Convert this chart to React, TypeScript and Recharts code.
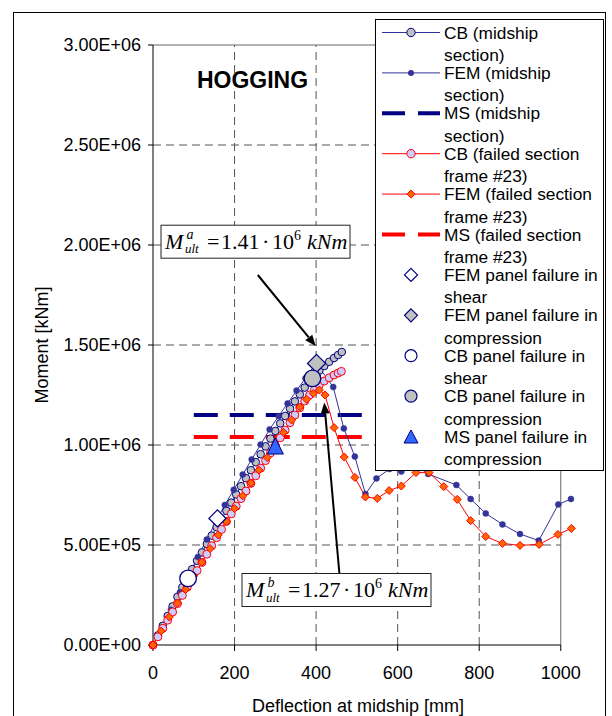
import React from 'react'
import { ComposedChart, Line, Scatter, XAxis, YAxis, ReferenceLine, ReferenceDot } from 'recharts'

const FONT = "'Liberation Sans', Arial, sans-serif"
const SERIF = "'Liberation Serif', 'Times New Roman', serif"
const BLUE = '#333399'
const NAVY = '#000080'
const RED = '#ff0000'

// deflection at midship [mm] and moment [kNm]
const cbMidX = [0, 12, 24, 36, 48, 60, 72, 84, 96, 108, 120, 132, 144, 156, 168, 180, 192, 204, 216, 228, 240, 252, 264, 276, 288, 300, 312, 324, 336, 348, 360, 372, 384, 396, 408, 420, 432, 444, 454, 463]
const cbMidM = [0, 48000, 96000, 145000, 193000, 241000, 289000, 337000, 379000, 421000, 463000, 505000, 547000, 589000, 630000, 671000, 712000, 753000, 794000, 834000, 874000, 914000, 954000, 993000, 1032000, 1070000, 1108000, 1145000, 1182000, 1218000, 1253000, 1287000, 1318000, 1346000, 1372000, 1395000, 1416000, 1435000, 1450000, 1465000]

const femMidX = [0, 22, 44, 66, 88, 110, 132, 154, 176, 198, 220, 242, 264, 286, 308, 330, 352, 374, 400, 442, 468, 495, 521, 548, 580, 609, 643, 675, 744, 779, 816, 857, 900, 946, 994, 1025]
const femMidM = [0, 88000, 176000, 264000, 352000, 440000, 528000, 616000, 700000, 776000, 852000, 928000, 1002000, 1078000, 1144000, 1208000, 1272000, 1334000, 1410000, 1290000, 1083000, 942000, 755000, 833000, 880000, 867000, 900000, 855000, 800000, 730000, 658000, 603000, 555000, 522000, 703000, 730000]

const cbFailX = [0, 12, 24, 36, 48, 60, 72, 84, 96, 108, 120, 132, 144, 156, 168, 180, 192, 204, 216, 228, 240, 252, 264, 276, 288, 300, 312, 324, 336, 348, 360, 372, 384, 396, 408, 420, 432, 444, 454, 462]
const cbFailM = [0, 41000, 83000, 124000, 165000, 207000, 248000, 289000, 330000, 372000, 413000, 454000, 496000, 537000, 578000, 618000, 656000, 694000, 732000, 770000, 808000, 846000, 884000, 922000, 960000, 998000, 1036000, 1074000, 1112000, 1150000, 1186000, 1220000, 1250000, 1277000, 1300000, 1320000, 1336000, 1350000, 1360000, 1368000]

const femFailX = [0, 20, 40, 60, 80, 100, 120, 140, 160, 180, 200, 220, 240, 260, 280, 300, 320, 340, 360, 377, 393, 408, 422, 444, 469, 495, 521, 550, 579, 609, 645, 677, 713, 746, 779, 816, 857, 900, 947, 993, 1026]
const femFailM = [0, 70000, 140000, 210000, 278000, 346000, 414000, 482000, 550000, 617000, 682000, 746000, 810000, 874000, 937000, 1000000, 1063000, 1125000, 1190000, 1228000, 1258000, 1275000, 1250000, 1087000, 940000, 838000, 740000, 733000, 772000, 795000, 862000, 862000, 792000, 728000, 622000, 542000, 508000, 498000, 503000, 553000, 583000]

const msX = [100, 514]
const msMidM = [1150000, 1150000]
const msFailM = [1040000, 1040000]

// panel failure points
const femShear = [{ x: 158, y: 633000 }]
const femComp = [{ x: 401, y: 1408000 }]
const cbShear = [{ x: 86, y: 333000 }]
const cbComp = [{ x: 391, y: 1333000 }]
const msComp = [{ x: 300, y: 995000 }]

const xTicks = [0, 200, 400, 600, 800, 1000]
const yTicks = [0, 500000, 1000000, 1500000, 2000000, 2500000, 3000000]
const yTickLabels = ['0.00E+00', '5.00E+05', '1.00E+06', '1.50E+06', '2.00E+06', '2.50E+06', '3.00E+06']
const xGrid = [200, 400, 600, 800]
const yGrid = [500000, 1000000, 1500000, 2000000, 2500000]

const legendNames = [
  ['CB (midship', 'section)'],
  ['FEM (midship', 'section)'],
  ['MS (midship', 'section)'],
  ['CB (failed section', 'frame #23)'],
  ['FEM (failed section', 'frame #23)'],
  ['MS (failed section', 'frame #23)'],
  ['FEM panel failure in', 'shear'],
  ['FEM panel failure in', 'compression'],
  ['CB panel failure in', 'shear'],
  ['CB panel failure in', 'compression'],
  ['MS panel failure in', 'compression'],
]

const toPts = (xs: number[], ys: number[]) => xs.map((x, i) => ({ x, y: ys[i] }))

const diamond = (cx: number, cy: number, h: number) =>
  `M${cx},${cy - h}L${cx + h},${cy}L${cx},${cy + h}L${cx - h},${cy}Z`
const triangle = (cx: number, cy: number, w: number, h: number) =>
  `M${cx},${cy - h / 2}L${cx + w / 2},${cy + h / 2}L${cx - w / 2},${cy + h / 2}Z`

const arrow = (p: any) => {
  const { x1, y1, x2, y2 } = p
  const a = Math.atan2(y2 - y1, x2 - x1)
  const len = 11
  const w = 4.5
  const bx = x2 - len * Math.cos(a)
  const by = y2 - len * Math.sin(a)
  const nx = -Math.sin(a) * w
  const ny = Math.cos(a) * w
  return (
    <g>
      <line x1={x1} y1={y1} x2={bx} y2={by} stroke="#000" strokeWidth={2} />
      <path d={`M${x2},${y2}L${bx + nx},${by + ny}L${bx - nx},${by - ny}Z`} fill="#000" />
    </g>
  )
}

const mathBox = (sup: string, value: string) => (p: any) => {
  const L = p.cx - 94.5
  const T = p.cy - 16.5
  const B = T + 23.5
  return (
    <g fontFamily={SERIF} fill="#000">
      <rect x={L} y={T} width={189} height={33} fill="#fff" stroke="#222" strokeWidth={1} />
      <text x={L + 4} y={B} fontSize={22} fontStyle="italic">M</text>
      <text x={L + 25.5} y={B - 10} fontSize={14} fontStyle="italic">{sup}</text>
      <text x={L + 24} y={B + 4.5} fontSize={13} fontStyle="italic">ult</text>
      <text x={L + 46} y={B} fontSize={22}>=</text>
      <text x={L + 60} y={B} fontSize={22}>{value}</text>
      <text x={L + 101} y={B} fontSize={22}>·</text>
      <text x={L + 111} y={B} fontSize={22}>10</text>
      <text x={L + 133} y={B - 9} fontSize={14}>6</text>
      <text x={L + 146} y={B} fontSize={22} fontStyle="italic">kNm</text>
    </g>
  )
}

const hogging = (p: any) => (
  <text x={p.cx} y={p.cy + 8} textAnchor="middle" fontFamily={FONT} fontWeight="bold" fontSize={23} fill="#000">
    HOGGING
  </text>
)

const orangeDiamond = (p: any) => (
  <path key={`fd${p.index}`} d={diamond(p.cx, p.cy, 4)} fill="#ff6600" stroke={RED} strokeWidth={1} />
)

function legendIcon(i: number, y: number) {
  const line = (c: string) => <line x1={7} y1={y} x2={65} y2={y} stroke={c} strokeWidth={1} />
  const dash = (c: string) => <line x1={7} y1={y} x2={65} y2={y} stroke={c} strokeWidth={4} strokeDasharray="23 13" />
  switch (i) {
    case 0: return <g>{line(BLUE)}<circle cx={36} cy={y} r={4.2} fill="#c0c0c0" stroke={NAVY} /></g>
    case 1: return <g>{line(BLUE)}<circle cx={36} cy={y} r={3} fill={BLUE} /></g>
    case 2: return dash(NAVY)
    case 3: return <g>{line(RED)}<circle cx={36} cy={y} r={4.2} fill="#ccccff" stroke={RED} /></g>
    case 4: return <g>{line(RED)}<path d={diamond(36, y, 4)} fill="#ff6600" stroke={RED} /></g>
    case 5: return dash(RED)
    case 6: return <path d={diamond(36, y, 6.5)} fill="#fff" stroke={NAVY} strokeWidth={1.2} />
    case 7: return <path d={diamond(36, y, 6.5)} fill="#c0c0c0" stroke={NAVY} strokeWidth={1.2} />
    case 8: return <circle cx={36} cy={y} r={6} fill="#fff" stroke={NAVY} strokeWidth={1.2} />
    case 9: return <circle cx={36} cy={y} r={6} fill="#c0c0c0" stroke={NAVY} strokeWidth={1.2} />
    default: return <path d={triangle(36, y, 14, 13)} fill="#3366ff" stroke={NAVY} strokeWidth={1} />
  }
}

function ChartLegend() {
  return (
    <svg width={229} height={452} style={{ position: 'absolute', left: 375, top: 19 }}>
      <rect x={0.5} y={0.5} width={228} height={451} fill="#fff" stroke="#000" strokeWidth={1} />
      {legendNames.map((n, i) => {
        const y = 13.5 + 40.4 * i
        return (
          <g key={i}>
            {legendIcon(i, y)}
            <text x={69} y={y + 6} fontFamily={FONT} fontSize={17.3} fill="#000">{n[0]}</text>
            <text x={69} y={y + 28.5} fontFamily={FONT} fontSize={17.3} fill="#000">{n[1]}</text>
          </g>
        )
      })}
    </svg>
  )
}

export default function App() {
  return (
    <div style={{ position: 'absolute', left: 0, top: 0, width: 612, height: 716, overflow: 'hidden', background: '#fff' }}>
      <ComposedChart width={612} height={716} margin={{ top: 45, right: 39, bottom: 0, left: 0 }}>
        <XAxis
          dataKey="x"
          type="number"
          domain={[0, 1030]}
          ticks={xTicks}
          height={71}
          axisLine={false}
          tickLine={{ stroke: '#000' }}
          tickSize={6}
          tickMargin={15}
          tick={{ fontSize: 18, fill: '#000', fontFamily: FONT }}
          label={{
            content: () => (
              <text x={358} y={712} textAnchor="middle" fontFamily={FONT} fontSize={18} fill="#000">
                Deflection at midship [mm]
              </text>
            ),
          }}
        />
        <YAxis
          type="number"
          domain={[0, 3000000]}
          ticks={yTicks}
          interval={0}
          width={153}
          axisLine={{ stroke: '#000' }}
          tickLine={{ stroke: '#000' }}
          tickSize={5}
          tickMargin={7}
          tick={{ fontSize: 18, fill: '#000', fontFamily: FONT }}
          tickFormatter={(v: number) => yTickLabels[yTicks.indexOf(v)]}
          label={{
            content: () => (
              <text x={42} y={345} transform="rotate(-90, 42, 345)" textAnchor="middle" dominantBaseline="central" fontFamily={FONT} fontSize={18} fill="#000">
                Moment [kNm]
              </text>
            ),
          }}
        />

        {xGrid.map((g) => (
          <ReferenceLine key={`vx${g}`} segment={[{ x: g, y: 0 }, { x: g, y: 3000000 }]} stroke="#555" strokeDasharray="8 5" />
        ))}
        {yGrid.map((g) => (
          <ReferenceLine key={`hy${g}`} segment={[{ x: 0, y: g }, { x: 1000, y: g }]} stroke="#555" strokeDasharray="8 5" />
        ))}
        <ReferenceLine segment={[{ x: 0, y: 3000000 }, { x: 1000, y: 3000000 }]} stroke="#666" />
        <ReferenceLine segment={[{ x: 1000, y: 0 }, { x: 1000, y: 3000000 }]} stroke="#666" />
        <ReferenceLine segment={[{ x: 0, y: 0 }, { x: 1000, y: 0 }]} stroke="#000" />

        <Line data={toPts(msX, msMidM)} dataKey="y" stroke={NAVY} strokeWidth={4} strokeDasharray="24 12" dot={false} activeDot={false} isAnimationActive={false} />
        <Line data={toPts(msX, msFailM)} dataKey="y" stroke={RED} strokeWidth={4} strokeDasharray="24 12" dot={false} activeDot={false} isAnimationActive={false} />
        <Line data={toPts(cbMidX, cbMidM)} dataKey="y" stroke={BLUE} strokeWidth={1} dot={{ r: 3.8, fill: '#c0c0c0', stroke: NAVY, strokeWidth: 1 }} activeDot={false} isAnimationActive={false} />
        <Line data={toPts(femMidX, femMidM)} dataKey="y" stroke={BLUE} strokeWidth={1} dot={{ r: 3, fill: BLUE, stroke: BLUE, strokeWidth: 0.5 }} activeDot={false} isAnimationActive={false} />
        <Line data={toPts(cbFailX, cbFailM)} dataKey="y" stroke={RED} strokeWidth={1} dot={{ r: 4, fill: '#ccccff', stroke: RED, strokeWidth: 1 }} activeDot={false} isAnimationActive={false} />
        <Line data={toPts(femFailX, femFailM)} dataKey="y" stroke={RED} strokeWidth={1} dot={orangeDiamond} activeDot={false} isAnimationActive={false} />

        <Scatter data={femShear} dataKey="y" isAnimationActive={false} shape={(p: any) => <path d={diamond(p.cx, p.cy, 8.5)} fill="#fff" stroke={NAVY} strokeWidth={1.3} />} />
        <Scatter data={femComp} dataKey="y" isAnimationActive={false} shape={(p: any) => <path d={diamond(p.cx, p.cy, 9)} fill="#c0c0c0" stroke={NAVY} strokeWidth={1.3} />} />
        <Scatter data={cbShear} dataKey="y" isAnimationActive={false} shape={(p: any) => <circle cx={p.cx} cy={p.cy} r={8.3} fill="#fff" stroke={NAVY} strokeWidth={1.3} />} />
        <Scatter data={cbComp} dataKey="y" isAnimationActive={false} shape={(p: any) => <circle cx={p.cx} cy={p.cy} r={8.3} fill="#c0c0c0" stroke={NAVY} strokeWidth={1.3} />} />
        <Scatter data={msComp} dataKey="y" isAnimationActive={false} shape={(p: any) => <path d={triangle(p.cx, p.cy, 16, 16)} fill="#3366ff" stroke={NAVY} strokeWidth={1} />} />

        <ReferenceLine segment={[{ x: 257, y: 1850000 }, { x: 399, y: 1495000 }]} shape={arrow} />
        <ReferenceLine segment={[{ x: 457, y: 360000 }, { x: 420, y: 1212000 }]} shape={arrow} />
        <ReferenceDot x={251.4} y={2016500} r={1} shape={mathBox('a', '1.41')} />
        <ReferenceDot x={450} y={275000} r={1} shape={mathBox('b', '1.27')} />
        <ReferenceDot x={244} y={2825000} r={1} shape={hogging} />
      </ComposedChart>
      <ChartLegend />
      <div style={{ position: 'absolute', left: 13, top: 12, width: 593, height: 720, border: '1px solid #000', boxSizing: 'border-box', pointerEvents: 'none' }} />
    </div>
  )
}
